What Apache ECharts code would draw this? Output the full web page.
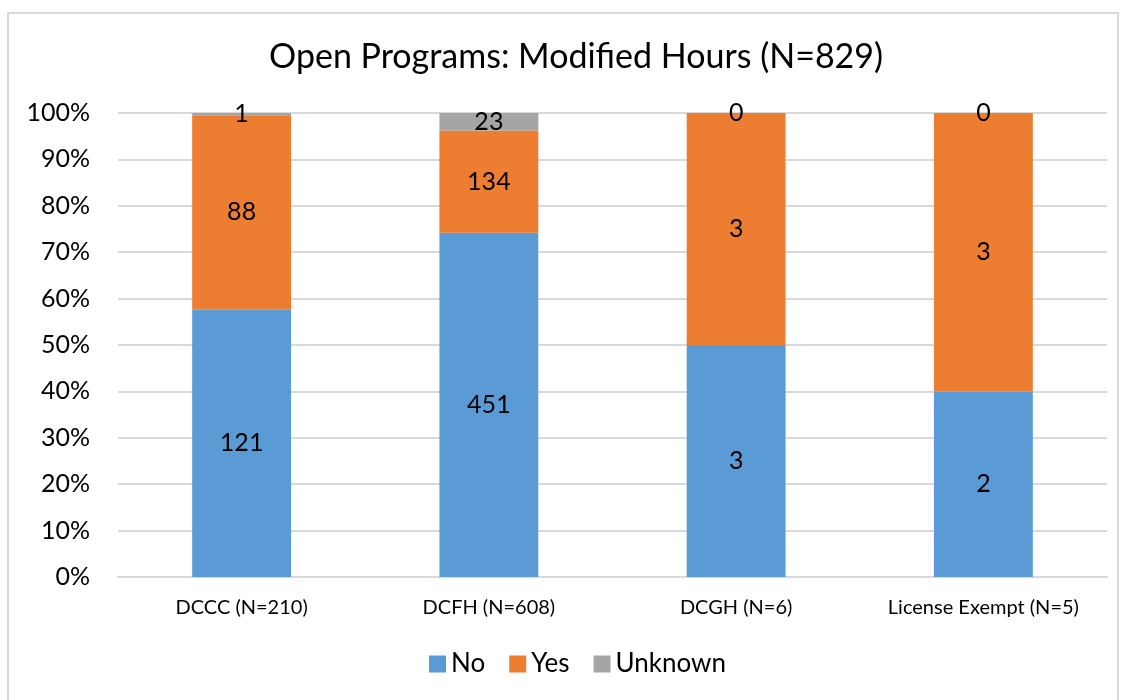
<!DOCTYPE html>
<html>
<head>
<meta charset="utf-8">
<script src="https://cdn.jsdelivr.net/npm/echarts@6/dist/echarts.min.js"></script>
<style>
  html, body { margin: 0; padding: 0; background: #fff; }
  #chart { width: 1123px; height: 700px; }
</style>
</head>
<body>
<div id="chart"></div>
<script>
(function () {
    'use strict';

    var categories = ['DCCC (N=210)', 'DCFH (N=608)', 'DCGH (N=6)', 'License Exempt (N=5)'];
    var noCounts = [121, 451, 3, 2];
    var yesCounts = [88, 134, 3, 3];
    var unknownCounts = [1, 23, 0, 0];

    var FONT = 'Lato, "Open Sans", sans-serif';
    var COLORS = ['#5b9bd5', '#ed7d31', '#a5a5a5'];

    // Share of each category total, the label keeps the raw count.
    var totals = categories.map(function (c, i) {
        return noCounts[i] + yesCounts[i] + unknownCounts[i];
    });
    function toShare(counts) {
        return counts.map(function (v, i) {
            return { value: v / totals[i] * 100, count: v };
        });
    }

    function makeSeries(name, counts, color) {
        return {
            name: name,
            type: 'bar',
            stack: 'all',
            barWidth: '40%',
            itemStyle: { color: color },
            label: {
                show: true,
                position: 'inside',
                color: '#000',
                fontFamily: FONT,
                fontSize: 25,
                formatter: function (p) { return p.data.count; }
            },
            data: toShare(counts)
        };
    }

    var chart = echarts.init(document.getElementById('chart'));
    chart.setOption({
        animation: false,
        title: {
            text: 'Open Programs: Modified Hours (N=829)',
            left: 264,
            top: 35,
            textStyle: { fontFamily: FONT, fontSize: 34, fontWeight: 'normal', color: '#000' }
        },
        legend: {
            bottom: 18,
            left: 424,
            itemWidth: 17,
            itemHeight: 17,
            itemGap: 24,
            icon: 'rect',
            textStyle: { fontFamily: FONT, fontSize: 26, color: '#000' },
            data: ['No', 'Yes', 'Unknown']
        },
        grid: { left: 118, right: 16, top: 113, bottom: 123 },
        xAxis: {
            type: 'category',
            data: categories,
            axisLine: { lineStyle: { color: '#d9d9d9', width: 2 } },
            axisTick: { show: false },
            axisLabel: { interval: 0, fontFamily: FONT, fontSize: 20, color: '#000', margin: 21 }
        },
        yAxis: {
            type: 'value',
            min: 0,
            max: 100,
            interval: 10,
            axisLine: { show: false },
            axisTick: { show: false },
            splitLine: { lineStyle: { color: '#d9d9d9', width: 2 } },
            axisLabel: {
                fontFamily: FONT, fontSize: 25, color: '#000', margin: 28,
                formatter: '{value}%'
            }
        },
        graphic: [{
            type: 'rect',
            shape: { x: 8, y: 13, width: 1110, height: 700 },
            style: { fill: 'none', stroke: '#d9d9d9', lineWidth: 2 },
            silent: true
        }],
        series: [
            makeSeries('No', noCounts, COLORS[0]),
            makeSeries('Yes', yesCounts, COLORS[1]),
            makeSeries('Unknown', unknownCounts, COLORS[2])
        ]
    });
})();
</script>
</body>
</html>
